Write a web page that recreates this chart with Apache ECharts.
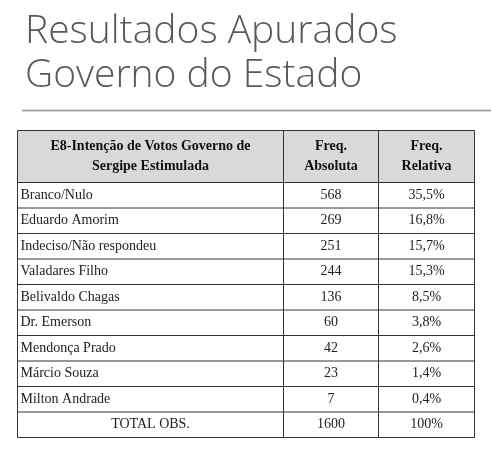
<!DOCTYPE html>
<html><head><meta charset="utf-8">
<script src="https://cdn.jsdelivr.net/npm/echarts@6/dist/echarts.min.js"></script>
<style>html,body{margin:0;padding:0;background:#fff}#c{width:491px;height:449px}</style>
</head><body><div id="c"></div>
<script>
const categories = ["Branco/Nulo","Eduardo Amorim","Indeciso/Não respondeu","Valadares Filho","Belivaldo Chagas","Dr. Emerson","Mendonça Prado","Márcio Souza","Milton Andrade"];
const absoluta = [568,269,251,244,136,60,42,23,7];
const relativa = ["35,5%","16,8%","15,7%","15,3%","8,5%","3,8%","2,6%","1,4%","0,4%"];
const totalRow = ["TOTAL OBS.","1600","100%"];
const headers = ["E8-Intenção de Votos Governo de\nSergipe Estimulada","Freq.\nAbsoluta","Freq.\nRelativa"];
const titleLines = ["Resultados Apurados","Governo do Estado"];

(function(){
const colX = [17.5, 283.5, 378.5, 474.5];
const tTop = 130.5, headH = 52, rowH = 25.5;
const g = [];
const serif = '"Liberation Serif","DejaVu Serif",serif';
titleLines.forEach((t,i)=>g.push({type:'text',left:25,top:12+i*44,style:{text:t,font:'300 39px "Open Sans", sans-serif',fill:'#595959'}}));
g.push({type:'line',shape:{x1:22,y1:110.5,x2:491,y2:110.5},style:{stroke:'#a6a6a6',lineWidth:2}});
g.push({type:'rect',shape:{x:colX[0],y:tTop,width:colX[3]-colX[0],height:headH},style:{fill:'#d9d9d9'}});
headers.forEach((h,i)=>g.push({type:'text',x:(colX[i]+colX[i+1])/2,y:tTop+headH/2,style:{text:h,font:'bold 14px '+serif,fill:'#111',align:'center',verticalAlign:'middle',lineHeight:20}}));
const rows = categories.map((c,i)=>[c,String(absoluta[i]),relativa[i]]);
rows.push(totalRow);
rows.forEach((r,j)=>{
  const y = tTop+headH+j*rowH+rowH/2;
  r.forEach((v,i)=>{
    const left = (i===0 && j<rows.length-1);
    g.push({type:'text',x:left?colX[0]+3:(colX[i]+colX[i+1])/2,y:y,style:{text:v,font:'14px '+serif,fill:'#222',align:left?'left':'center',verticalAlign:'middle'}});
  });
});
const bottom = tTop+headH+rows.length*rowH;
g.push({type:'line',shape:{x1:colX[0],y1:tTop,x2:colX[3],y2:tTop},style:{stroke:'#333',lineWidth:1}});
for(let j=0;j<=rows.length;j++){const y=tTop+headH+j*rowH;g.push({type:'line',shape:{x1:colX[0],y1:y,x2:colX[3],y2:y},style:{stroke:'#333',lineWidth:1}});}
colX.forEach(x=>g.push({type:'line',shape:{x1:x,y1:tTop,x2:x,y2:bottom},style:{stroke:'#333',lineWidth:1}}));
const chart = echarts.init(document.getElementById('c'));
chart.setOption({animation:false,graphic:g});
})();
</script></body></html>
